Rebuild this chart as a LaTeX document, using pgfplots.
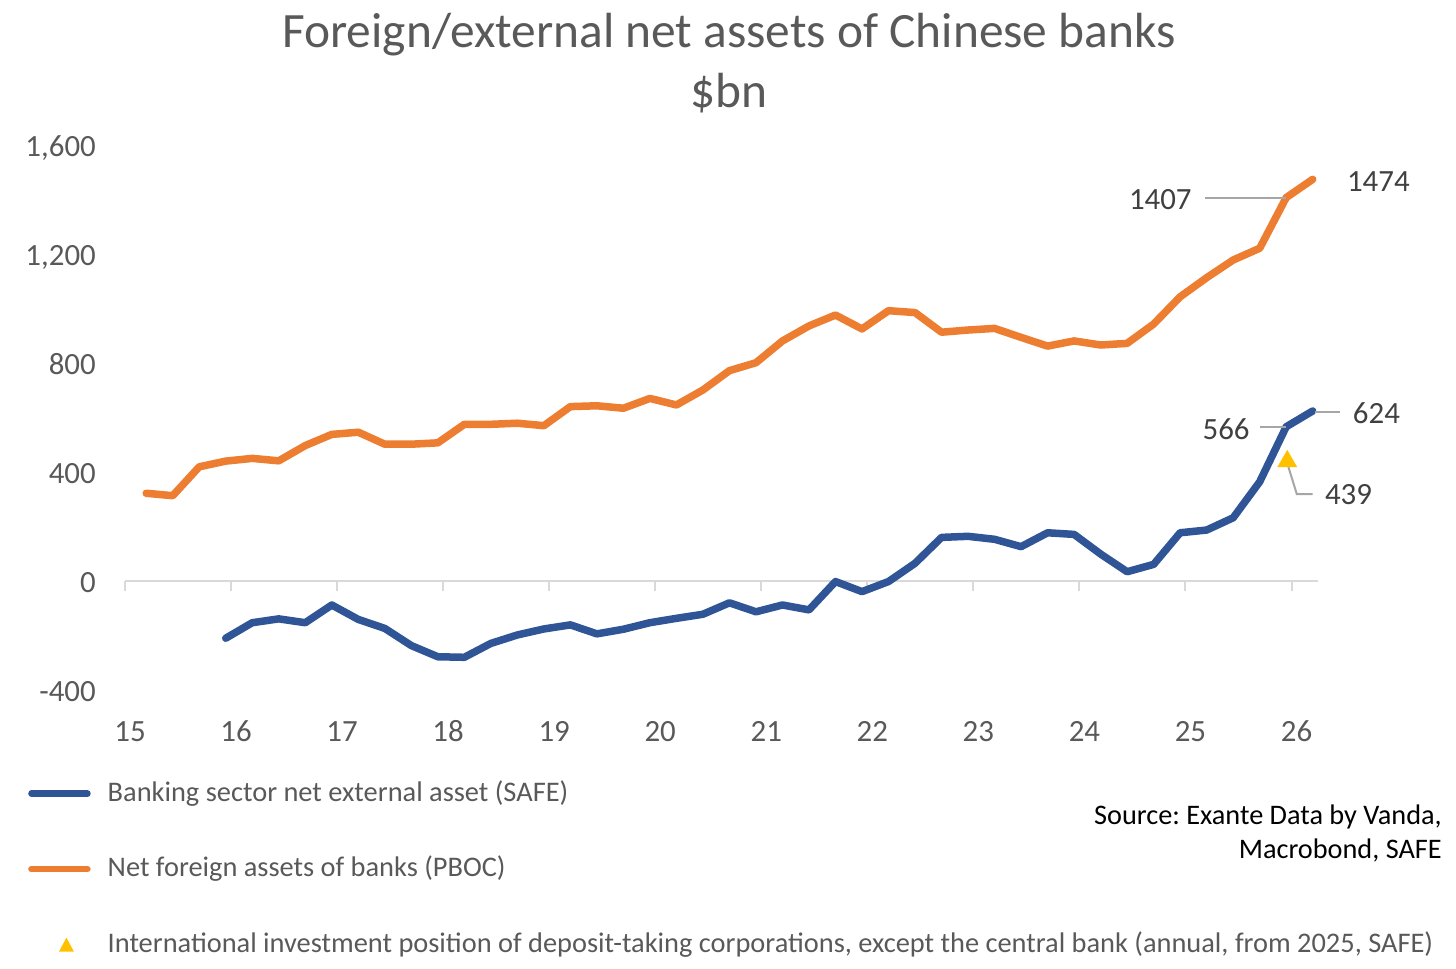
\documentclass[border=0pt]{standalone}
\usepackage{fontspec}
\setmainfont{Carlito}
\usepackage{pgfplots}
\usepackage{pgfplotstable}
\pgfplotsset{compat=1.18}
\frenchspacing
\definecolor{cblue}{HTML}{2F5597}
\definecolor{corange}{HTML}{ED7D31}
\definecolor{cyellow}{HTML}{FFC000}
\definecolor{tgray}{HTML}{595959}
\definecolor{lgray}{HTML}{404040}
\definecolor{axgray}{HTML}{D9D9D9}
\definecolor{leadgray}{HTML}{A6A6A6}

\pgfplotstableread{
x y
15.20 322
15.45 313
15.70 419
15.95 440
16.20 450
16.45 441
16.70 497
16.95 538
17.20 546
17.45 502
17.70 502
17.95 507
18.20 575
18.45 575
18.70 579
18.95 570
19.20 640
19.45 643
19.70 634
19.95 670
20.20 646
20.45 701
20.70 772
20.95 801
21.20 881
21.45 936
21.70 976
21.95 925
22.20 992
22.45 985
22.70 913
22.95 921
23.20 927
23.45 894
23.70 862
23.95 881
24.20 866
24.45 872
24.70 943
24.95 1043
25.20 1113
25.45 1178
25.70 1221
25.95 1407
26.20 1474
}\orangedata

\pgfplotstableread{
x y
15.95 -210
16.20 -153
16.45 -139
16.70 -153
16.95 -88
17.20 -141
17.45 -174
17.70 -237
17.95 -278
18.20 -280
18.45 -229
18.70 -198
18.95 -176
19.20 -161
19.45 -194
19.70 -177
19.95 -153
20.20 -137
20.45 -122
20.70 -80
20.95 -113
21.20 -88
21.45 -106
21.70 -2
21.95 -39
22.20 -2
22.45 65
22.70 160
22.95 164
23.20 153
23.45 126
23.70 177
23.95 171
24.20 99
24.45 34
24.70 61
24.95 177
25.20 187
25.45 232
25.70 364
25.95 566
26.20 624
}\bluedata

\begin{document}
\begin{tikzpicture}
\useasboundingbox (-125bp,-279bp) rectangle (1331bp,690bp);
\begin{axis}[
  at={(0,0)}, anchor=south west,
  scale only axis, width=1193bp, height=545bp,
  xmin=15, xmax=26.25, ymin=-400, ymax=1600,
  axis line style={draw=none},
  tick style={draw=none},
  xtick={15,16,17,18,19,20,21,22,23,24,25,26},
  xticklabels={15,16,17,18,19,20,21,22,23,24,25,26},
  ytick={-400,0,400,800,1200,1600},
  yticklabels={-400,0,400,800,{1,200},{1,600}},
  ticklabel style={font=\fontsize{31}{36}\selectfont, text=tgray, inner sep=0pt},
  xticklabel style={anchor=base, yshift=-51bp, xshift=5bp},
  yticklabel style={anchor=base east, xshift=-29bp, yshift=-11.7bp},
  clip=false,
  legend cell align=left,
  legend style={at={(-0.0813,-0.1651)}, anchor=north west, draw=none, fill=none,
    inner sep=0pt, row sep=48.5bp, column sep=17bp,
    font=\fontsize{28.5}{34}\selectfont, text=tgray,
    nodes={inner sep=0pt, text height=21bp, text depth=6bp}},
]
\draw[axgray, line width=2bp] (axis cs:15,0) -- (axis cs:26.25,0);
\draw[axgray, line width=2bp] (axis cs:15,0) -- (axis cs:15,-37);
\draw[axgray, line width=2bp] (axis cs:16,0) -- (axis cs:16,-37);
\draw[axgray, line width=2bp] (axis cs:17,0) -- (axis cs:17,-37);
\draw[axgray, line width=2bp] (axis cs:18,0) -- (axis cs:18,-37);
\draw[axgray, line width=2bp] (axis cs:19,0) -- (axis cs:19,-37);
\draw[axgray, line width=2bp] (axis cs:20,0) -- (axis cs:20,-37);
\draw[axgray, line width=2bp] (axis cs:21,0) -- (axis cs:21,-37);
\draw[axgray, line width=2bp] (axis cs:22,0) -- (axis cs:22,-37);
\draw[axgray, line width=2bp] (axis cs:23,0) -- (axis cs:23,-37);
\draw[axgray, line width=2bp] (axis cs:24,0) -- (axis cs:24,-37);
\draw[axgray, line width=2bp] (axis cs:25,0) -- (axis cs:25,-37);
\draw[axgray, line width=2bp] (axis cs:26,0) -- (axis cs:26,-37);
\addplot[cblue, line width=7.5bp, line cap=round, line join=round,
  legend image code/.code={\draw[cblue, line width=6.5bp, line cap=round] (0bp,0bp) -- (56bp,0bp);}]
  table {\bluedata};
\addlegendentry{Banking sector net external asset (SAFE)}
\addplot[corange, line width=7.5bp, line cap=round, line join=round,
  legend image code/.code={\draw[corange, line width=6.5bp, line cap=round] (0bp,0bp) -- (56bp,0bp);}]
  table {\orangedata};
\addlegendentry{Net foreign assets of banks (PBOC)}
\addplot[only marks, mark=triangle*, mark size=11bp, color=cyellow,
  legend image code/.code={\path[opacity=0, draw=none, fill=none] (0bp,0bp) rectangle (56bp,0.1bp);
    \fill[cyellow, draw=none] (27.5bp,-7bp) -- (42.5bp,-7bp) -- (35bp,7bp) -- cycle;}]
  coordinates {(25.96,439)};
\addlegendentry{International investment position of deposit-taking corporations, except the central bank (annual, from 2025, SAFE)}

% data labels and leader lines
\draw[leadgray, line width=2bp] (axis cs:25.183,1405) -- (axis cs:25.950,1405);
\draw[leadgray, line width=2bp] (axis cs:25.701,565) -- (axis cs:25.950,565);
\draw[leadgray, line width=2bp] (axis cs:26.22,620) -- (axis cs:26.456,620);
\draw[leadgray, line width=2bp] (axis cs:25.965,426) -- (axis cs:26.05,319) -- (axis cs:26.2,319);
\node[anchor=east, text=lgray, font=\fontsize{31}{36}\selectfont, inner sep=0pt] at (axis cs:25.06,1398) {1407};
\node[anchor=west, text=lgray, font=\fontsize{31}{36}\selectfont, inner sep=0pt] at (axis cs:26.522,1464) {1474};
\node[anchor=east, text=lgray, font=\fontsize{31}{36}\selectfont, inner sep=0pt] at (axis cs:25.607,558) {566};
\node[anchor=west, text=lgray, font=\fontsize{31}{36}\selectfont, inner sep=0pt] at (axis cs:26.578,617) {624};
\node[anchor=west, text=lgray, font=\fontsize{31}{36}\selectfont, inner sep=0pt] at (axis cs:26.314,316) {439};
\end{axis}
\node[anchor=base, text=tgray, font=\fontsize{49.6}{58}\selectfont, inner sep=0pt] at (604bp,642bp) {Foreign/external net assets of Chinese banks};
\node[anchor=base, text=tgray, font=\fontsize{49.6}{58}\selectfont, inner sep=0pt] at (604bp,582bp) {\$bn};
\node[anchor=base east, text=black, font=\fontsize{28.4}{34}\selectfont, inner sep=0pt] at (1317bp,-134bp) {Source: Exante Data by Vanda,};
\node[anchor=base east, text=black, font=\fontsize{28.4}{34}\selectfont, inner sep=0pt] at (1317bp,-168bp) {Macrobond, SAFE};
\end{tikzpicture}
\end{document}
